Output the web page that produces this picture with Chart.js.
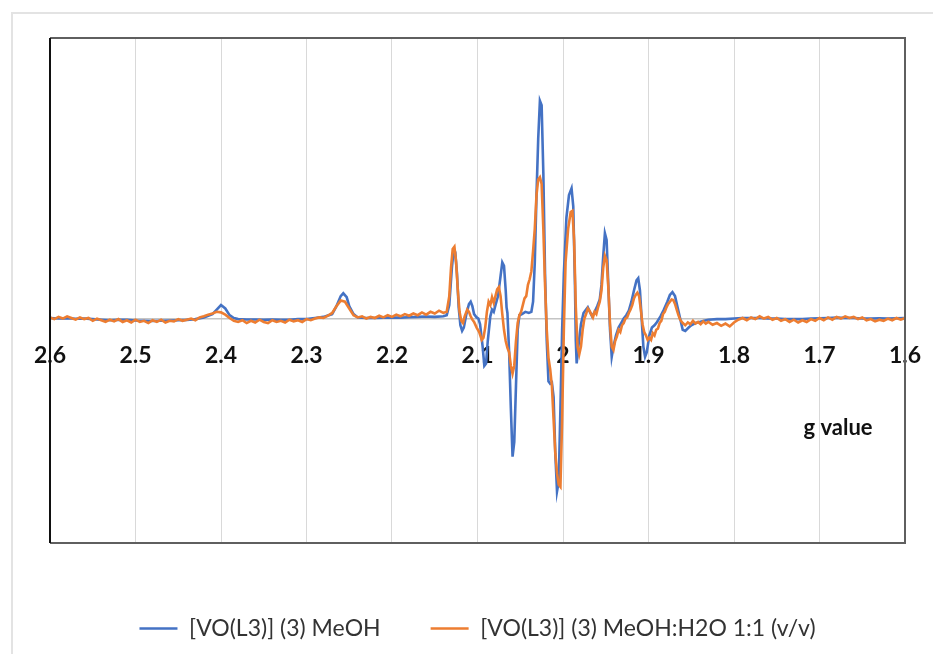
<!DOCTYPE html>
<html lang="en">
<head>
    <meta charset="UTF-8">
    <title>EPR spectra</title>
    <script src="https://cdn.jsdelivr.net/npm/chart.js"></script>
    <style>
        html, body { margin: 0; padding: 0; background: #fff; }
        #wrap { width: 933px; height: 654px; }
    </style>
</head>
<body>
    <div id="wrap"><canvas id="eprChart" width="933" height="654"></canvas></div>

    <script>
        // g value tick marks on the (reversed) horizontal axis
        const gTicks = [2.6, 2.5, 2.4, 2.3, 2.2, 2.1, 2.0, 1.9, 1.8, 1.7, 1.6];

        const seriesNames = ['[VO(L3)] (3) MeOH', '[VO(L3)] (3) MeOH:H2O 1:1 (v/v)'];

        // MeOH trace (blue)
        const gBlue = [
            2.600, 2.590, 2.580, 2.570, 2.560, 2.550, 2.540, 2.530, 2.520, 2.510,
            2.500, 2.490, 2.480, 2.470, 2.460, 2.450, 2.440, 2.430, 2.420, 2.410,
            2.405, 2.400, 2.395, 2.390, 2.385, 2.380, 2.370, 2.360, 2.350, 2.340,
            2.330, 2.320, 2.310, 2.300, 2.290, 2.280, 2.270, 2.265, 2.260, 2.257,
            2.253, 2.250, 2.245, 2.240, 2.230, 2.220, 2.210, 2.200, 2.190, 2.180,
            2.170, 2.160, 2.150, 2.140, 2.136, 2.133, 2.130, 2.128, 2.126, 2.124,
            2.122, 2.120, 2.118, 2.116, 2.113, 2.110, 2.108, 2.106, 2.104, 2.101,
            2.099, 2.097, 2.094, 2.092, 2.090, 2.088, 2.085, 2.083, 2.081, 2.079,
            2.076, 2.073, 2.071, 2.069, 2.067, 2.066, 2.065, 2.063, 2.061, 2.059,
            2.057, 2.055, 2.053, 2.051, 2.048, 2.044, 2.040, 2.037, 2.035, 2.033,
            2.031, 2.029, 2.027, 2.025, 2.023, 2.021, 2.019, 2.017, 2.015, 2.013,
            2.011, 2.009, 2.007, 2.005, 2.003, 2.001, 1.999, 1.996, 1.993, 1.990,
            1.988, 1.986, 1.985, 1.984, 1.982, 1.979, 1.976, 1.973, 1.971, 1.968,
            1.966, 1.963, 1.960, 1.957, 1.955, 1.953, 1.951, 1.949, 1.947, 1.945,
            1.943, 1.941, 1.938, 1.935, 1.932, 1.929, 1.926, 1.923, 1.920, 1.917,
            1.914, 1.912, 1.910, 1.908, 1.906, 1.904, 1.902, 1.899, 1.896, 1.893,
            1.890, 1.886, 1.882, 1.878, 1.875, 1.872, 1.869, 1.866, 1.863, 1.860,
            1.857, 1.853, 1.850, 1.845, 1.840, 1.835, 1.830, 1.820, 1.810, 1.800,
            1.790, 1.780, 1.770, 1.760, 1.750, 1.740, 1.730, 1.720, 1.710, 1.700,
            1.690, 1.680, 1.670, 1.660, 1.650, 1.640, 1.630, 1.620, 1.610, 1.600
        ];
        const blueVals = [
            5, 0, 3, -2, 0, -5, -10, -15, -10, -12,
            -18, -20, -22, -20, -18, -15, -12, -5, 10, 40,
            80, 120, 90, 30, 5, -5, -8, -8, -10, -8,
            -10, -10, -5, -5, 5, 15, 40, 110, 200, 225,
            190, 110, 40, 10, 5, 5, 8, 10, 8, 12,
            15, 18, 15, 20, 30, 120, 450, 600, 590, 400,
            100, -60, -110, -80, 40, 130, 150, 110, 40, 10,
            0, -50, -250, -420, -400, -200, 20, 80, 60, 120,
            200, 380, 500, 470, 250, 100, 50, -300, -800, -1230,
            -1100, -600, -100, 30, 40, 60, 50, 60, 150, 500,
            1100, 1600, 1940, 1900, 1300, 400, -200, -560, -580, -570,
            -700, -1200, -1540, -1450, -800, -100, 400, 900, 1100, 1160,
            1000, 300, -200, -400, -250, -50, 50, 80, 100, 50,
            20, 60, 110, 170, 300, 550, 760, 700, 300, -100,
            -340, -250, -150, -80, -40, 0, 30, 70, 150, 250,
            340, 360, 250, 0, -250, -340, -300, -150, -80, -60,
            -30, 20, 80, 150, 210, 235, 200, 100, 0, -100,
            -110, -80, -60, -40, -30, -20, -10, -5, -5, 0,
            5, 5, 5, 0, 0, -5, -5, -5, 0, 3,
            5, 8, 5, 5, 0, 0, 2, 0, 3, 5
        ];

        // MeOH:H2O trace (orange)
        const gOrange = [
            2.600, 2.595, 2.590, 2.585, 2.580, 2.575, 2.570, 2.565, 2.560, 2.555,
            2.550, 2.545, 2.540, 2.535, 2.530, 2.525, 2.520, 2.515, 2.510, 2.505,
            2.500, 2.495, 2.490, 2.485, 2.480, 2.475, 2.470, 2.465, 2.460, 2.455,
            2.450, 2.445, 2.440, 2.435, 2.430, 2.425, 2.420, 2.415, 2.410, 2.405,
            2.400, 2.395, 2.390, 2.385, 2.380, 2.375, 2.370, 2.365, 2.360, 2.355,
            2.350, 2.345, 2.340, 2.335, 2.330, 2.325, 2.320, 2.315, 2.310, 2.305,
            2.300, 2.295, 2.290, 2.285, 2.280, 2.275, 2.270, 2.265, 2.260, 2.255,
            2.250, 2.245, 2.240, 2.235, 2.230, 2.225, 2.220, 2.215, 2.210, 2.205,
            2.200, 2.195, 2.190, 2.185, 2.180, 2.175, 2.170, 2.165, 2.160, 2.155,
            2.150, 2.145, 2.140, 2.136, 2.133, 2.131, 2.129, 2.127, 2.125, 2.123,
            2.121, 2.119, 2.117, 2.115, 2.112, 2.110, 2.108, 2.106, 2.104, 2.101,
            2.098, 2.095, 2.093, 2.091, 2.089, 2.087, 2.085, 2.083, 2.081, 2.079,
            2.077, 2.075, 2.073, 2.071, 2.069, 2.067, 2.065, 2.063, 2.061, 2.059,
            2.057, 2.055, 2.053, 2.051, 2.049, 2.047, 2.045, 2.043, 2.041, 2.039,
            2.037, 2.035, 2.033, 2.031, 2.029, 2.027, 2.025, 2.023, 2.021, 2.019,
            2.017, 2.015, 2.013, 2.011, 2.009, 2.007, 2.005, 2.003, 2.001, 1.999,
            1.997, 1.994, 1.991, 1.989, 1.987, 1.985, 1.983, 1.981, 1.979, 1.977,
            1.975, 1.973, 1.971, 1.969, 1.967, 1.965, 1.963, 1.961, 1.959, 1.957,
            1.955, 1.953, 1.951, 1.949, 1.947, 1.945, 1.943, 1.941, 1.939, 1.937,
            1.935, 1.933, 1.931, 1.929, 1.927, 1.925, 1.923, 1.921, 1.919, 1.917,
            1.915, 1.913, 1.911, 1.909, 1.907, 1.905, 1.903, 1.901, 1.899, 1.897,
            1.895, 1.893, 1.891, 1.889, 1.887, 1.885, 1.883, 1.881, 1.879, 1.877,
            1.875, 1.873, 1.871, 1.869, 1.867, 1.865, 1.863, 1.860, 1.857, 1.854,
            1.851, 1.848, 1.845, 1.842, 1.839, 1.836, 1.833, 1.830, 1.825, 1.820,
            1.815, 1.810, 1.805, 1.800, 1.795, 1.790, 1.785, 1.780, 1.775, 1.770,
            1.765, 1.760, 1.755, 1.750, 1.745, 1.740, 1.735, 1.730, 1.725, 1.720,
            1.715, 1.710, 1.705, 1.700, 1.695, 1.690, 1.685, 1.680, 1.675, 1.670,
            1.665, 1.660, 1.655, 1.650, 1.645, 1.640, 1.635, 1.630, 1.625, 1.620,
            1.615, 1.610, 1.605, 1.600
        ];
        const orangeVals = [
            10, -5, 15, 0, 20, 5, -10, 10, -5, 5,
            -20, 0, -15, -30, -10, -25, -5, -30, -15, -35,
            -10, -30, -20, -40, -15, -30, -10, -35, -20, -25,
            -5, -20, -10, 0, -15, 10, 20, 35, 45, 60,
            55, 35, 5, -20, -30, -15, -40, -20, -35, -10,
            -30, -40, -15, -30, -20, -35, -10, -25, -15, -30,
            -5, -15, 0, 10, 5, 25, 50, 110, 160, 150,
            90, 30, 10, 20, 0, 15, 5, 25, 10, 30,
            15, 35, 20, 40, 25, 45, 30, 55, 35, 60,
            45, 70, 50, 60, 200, 450, 620, 640, 500, 250,
            60, -20, -40, 20, 80, 60, 20, -10, -30, -80,
            -120, -190, -170, -80, 60, 150, 120, 190, 140, 200,
            260, 280, 200, 40, -100, -200, -260, -300, -420, -490,
            -420, -200, -40, 30, 60, 120, 180, 200, 300, 350,
            420, 600, 800, 1100, 1240, 1260, 1200, 800, 300, -100,
            -350, -450, -600, -900, -1200, -1380, -1480, -1500, -900, -100,
            500, 800, 950, 960, 700, 100, -250, -320, -250, -100,
            0, 40, 90, 70, 40, 10, 60, 40, 100, 150,
            250, 450, 560, 520, 280, -50, -250, -280, -200, -160,
            -100, -120, -60, -40, 0, 10, 50, 80, 120, 180,
            210, 230, 200, 80, -50, -120, -150, -190, -170, -190,
            -130, -150, -100, -90, -40, -20, 40, 60, 100, 130,
            150, 170, 165, 130, 80, 30, -10, -40, -60, -35,
            -50, -20, -45, -30, -50, -25, -45, -30, -55, -40,
            -65, -45, -70, -35, -10, 5, -15, 10, -5, 20,
            0, 15, -10, 5, -20, -5, -30, -10, -35, -15,
            -30, -5, -20, 5, -15, 10, -10, 15, 0, 20,
            5, 15, -5, 10, -15, -5, -25, -10, -20, 0,
            -15, 5, -10, 5
        ];

        const toPoints = (gs, vs) => gs.map((g, i) => ({ x: g, y: vs[i] }));

        // legend sits well below the plot; push it down inside its own box
        const LEGEND_GAP = 24;
        const legendGap = {
            id: 'legendGap',
            beforeInit(chart) {
                const lg = chart.legend;
                const fit = lg.fit;
                lg.fit = function () { fit.call(this); this.height += LEGEND_GAP; };
                const draw = lg.draw;
                lg.draw = function (area) { this.top += LEGEND_GAP; draw.call(this, area); this.top -= LEGEND_GAP; };
            }
        };

        // figure border, plot frame and the "g value" caption
        const decorations = {
            id: 'decorations',
            beforeDraw(chart) {
                const ctx = chart.ctx;
                ctx.save();
                ctx.fillStyle = '#ffffff';
                ctx.fillRect(0, 0, chart.width, chart.height);
                ctx.strokeStyle = '#e3e3e3';
                ctx.lineWidth = 2;
                ctx.beginPath();
                ctx.moveTo(12, chart.height);
                ctx.lineTo(12, 13);
                ctx.lineTo(chart.width, 13);
                ctx.stroke();
                ctx.restore();
            },
            afterDraw(chart) {
                const { ctx, chartArea: a } = chart;
                ctx.save();
                ctx.lineWidth = 2;
                ctx.strokeStyle = '#5f5f5f';
                ctx.beginPath();
                ctx.moveTo(a.left, a.top);
                ctx.lineTo(a.right, a.top);
                ctx.lineTo(a.right, a.bottom);
                ctx.lineTo(a.left, a.bottom);
                ctx.stroke();
                ctx.strokeStyle = '#111111';
                ctx.beginPath();
                ctx.moveTo(a.left, a.top);
                ctx.lineTo(a.left, a.bottom);
                ctx.stroke();
                ctx.fillStyle = '#111111';
                ctx.font = 'bold 22px Lato';
                ctx.textAlign = 'center';
                ctx.textBaseline = 'middle';
                ctx.fillText('g value', 838, 428);
                ctx.restore();
            }
        };

        const ctx = document.getElementById('eprChart').getContext('2d');
        const eprChart = new Chart(ctx, {
            type: 'line',
            data: {
                datasets: [{
                    label: seriesNames[0],
                    data: toPoints(gBlue, blueVals),
                    borderColor: '#4472C4',
                    backgroundColor: '#4472C4',
                    borderWidth: 2.6,
                    pointRadius: 0,
                    order: 1
                }, {
                    label: seriesNames[1],
                    data: toPoints(gOrange, orangeVals),
                    borderColor: '#ED7D31',
                    backgroundColor: '#ED7D31',
                    borderWidth: 2.6,
                    pointRadius: 0,
                    order: 0
                }]
            },
            options: {
                responsive: false,
                animation: false,
                events: [],
                layout: {
                    padding: { left: 50, right: 28, top: 38, bottom: 4 }
                },
                scales: {
                    x: {
                        type: 'linear',
                        min: 1.6,
                        max: 2.6,
                        reverse: true,
                        position: { y: 0 },
                        afterBuildTicks: (scale) => {
                            scale.ticks = gTicks.map(v => ({ value: v }));
                        },
                        afterFit: (scale) => {
                            // edge labels may overhang the frame, as in the original
                            scale.paddingLeft = 0;
                            scale.paddingRight = 0;
                        },
                        grid: {
                            color: '#d9d9d9',
                            lineWidth: 1,
                            drawTicks: false
                        },
                        border: {
                            color: '#c4c4c4',
                            width: 1.5
                        },
                        ticks: {
                            autoSkip: false,
                            maxRotation: 0,
                            padding: 23,
                            color: '#111111',
                            font: { family: 'Lato', size: 23, weight: 'bold' },
                            callback: (value) => String(value)
                        }
                    },
                    y: {
                        display: false,
                        min: -2000,
                        max: 2500
                    }
                },
                plugins: {
                    legend: {
                        position: 'bottom',
                        labels: {
                            usePointStyle: true,
                            pointStyle: 'line',
                            pointStyleWidth: 38,
                            padding: 50,
                            color: '#333333',
                            font: { family: 'Lato', size: 23 },
                            sort: (a, b) => a.datasetIndex - b.datasetIndex
                        }
                    },
                    tooltip: { enabled: false }
                }
            },
            plugins: [legendGap, decorations]
        });
    </script>
</body>
</html>
